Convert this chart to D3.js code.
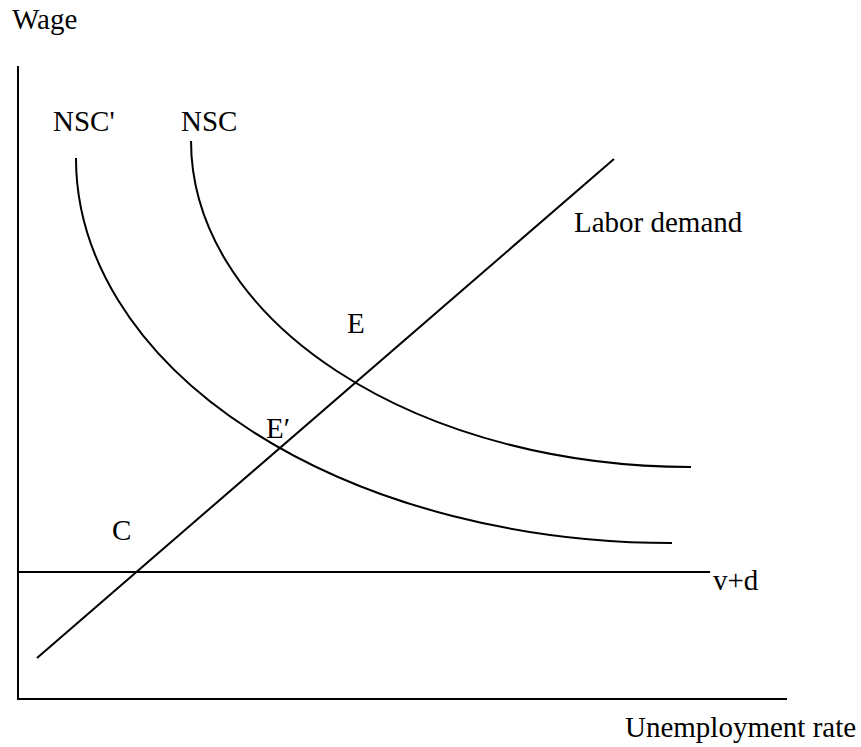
<!DOCTYPE html>
<html>
<head>
<meta charset="utf-8">
<script src="https://cdn.jsdelivr.net/npm/d3@7"></script>
<style>
  html, body { margin: 0; padding: 0; background: #fff; }
  svg { display: block; }
  text { font-family: "Liberation Serif", "Times New Roman", serif; font-size: 29px; fill: #000; }
</style>
</head>
<body>
<svg id="chart" width="861" height="747"></svg>
<script>
// ---- data (abstract units: unemployment 0..100, wage 0..100) ----
// NSC curves: start (top, vertical tangent) and end (right, horizontal tangent)
const nscU  = [22.5, 87.52];
const nscW  = [88.15, 36.65];
const nsc2U = [7.54, 85.05];
const nsc2W = [85.47, 24.64];
const demandU = [2.47, 77.5];
const demandW = [6.48, 85.3];
const vdU = [0, 90];
const vdW = [20.06, 20.06];

const svg = d3.select("#chart");
const x = d3.scaleLinear().domain([0, 100]).range([18, 787]);
const y = d3.scaleLinear().domain([0, 100]).range([699, 66]);

const line = d3.line().x(d => x(d[0])).y(d => y(d[1]));
const zip = (a, b) => a.map((v, i) => [v, b[i]]);

// quarter-ellipse from top point (vertical tangent) to right point (horizontal tangent)
function quarterArc(us, ws) {
  const x0 = x(us[0]), y0 = y(ws[0]), x1 = x(us[1]), y1 = y(ws[1]);
  const rx = Math.abs(x1 - x0), ry = Math.abs(y1 - y0);
  return `M${x0},${y0}A${rx},${ry} 0 0 0 ${x1},${y1}`;
}

const g = svg.append("g").attr("fill", "none").attr("stroke", "#000").attr("stroke-width", 2);

// axes
g.append("path").attr("d", line([[0, 100], [0, 0], [100, 0]]));
// v+d
g.append("path").attr("d", line(zip(vdU, vdW)));
// labor demand
g.append("path").attr("d", line(zip(demandU, demandW)));
// NSC and NSC'
g.append("path").attr("d", quarterArc(nscU, nscW));
g.append("path").attr("d", quarterArc(nsc2U, nsc2W));

// labels
const labels = [
  { t: "Wage", px: 12, py: 29 },
  { t: "NSC'", px: 53, py: 131 },
  { t: "NSC", px: 181, py: 131 },
  { t: "Labor demand", px: 574, py: 232 },
  { t: "E", px: 347, py: 333 },
  { t: "E\u2032", px: 266, py: 438 },
  { t: "C", px: 112, py: 540 },
  { t: "v+d", px: 713, py: 590 },
  { t: "Unemployment rate", px: 625, py: 737 }
];
svg.selectAll("text.lbl").data(labels).enter().append("text")
  .attr("class", "lbl")
  .attr("x", d => d.px).attr("y", d => d.py)
  .text(d => d.t);
</script>
</body>
</html>
